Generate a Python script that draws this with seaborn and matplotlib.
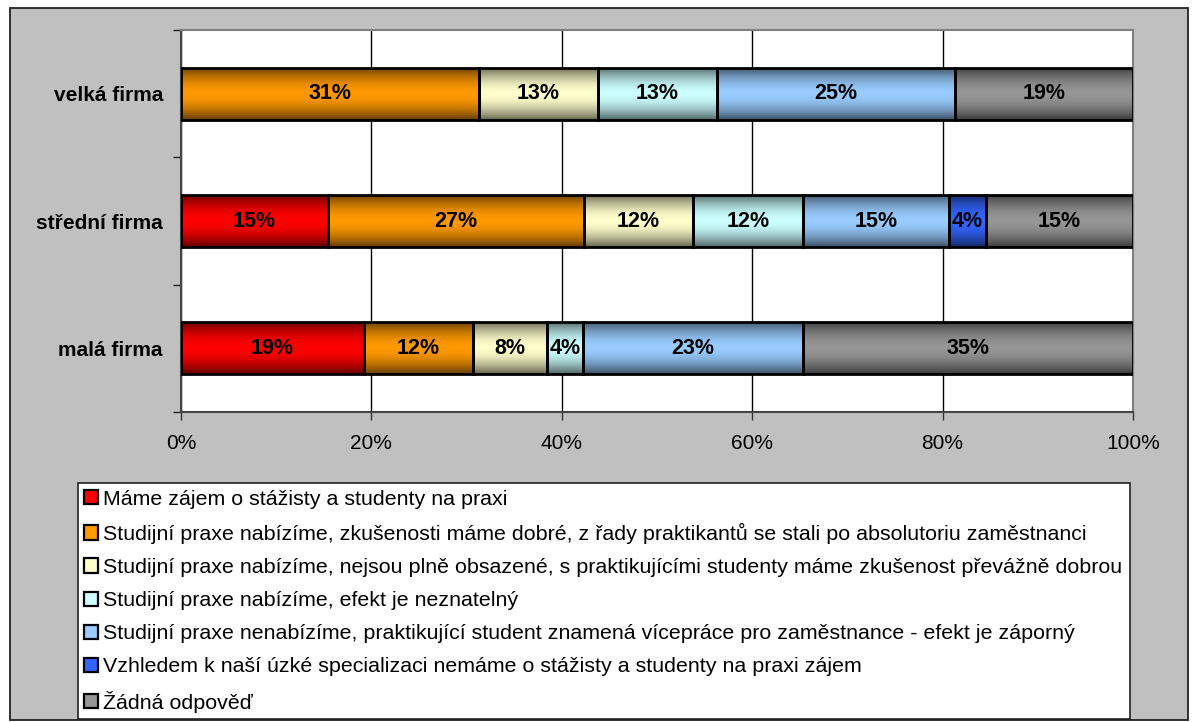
import numpy as np
import pandas as pd
import matplotlib
matplotlib.use("Agg")
import matplotlib.pyplot as plt
import seaborn as sns
from matplotlib.patches import Rectangle, Patch
from matplotlib.ticker import FixedLocator, PercentFormatter
from matplotlib.colors import to_rgb

# categories (top to bottom)
firms = ["velká firma", "střední firma", "malá firma"]

# answer options (legend order / stacking order)
answers = [
    "Máme zájem o stážisty a studenty na praxi",
    "Studijní praxe nabízíme, zkušenosti máme dobré, z řady praktikantů se stali po absolutoriu zaměstnanci",
    "Studijní praxe nabízíme, nejsou plně obsazené, s praktikujícími studenty máme zkušenost převážně dobrou",
    "Studijní praxe nabízíme, efekt je neznatelný",
    "Studijní praxe nenabízíme, praktikující student znamená vícepráce pro zaměstnance - efekt je záporný",
    "Vzhledem k naší úzké specializaci nemáme o stážisty a studenty na praxi zájem",
    "Žádná odpověď",
]
colors = ["#FF0000", "#FF9900", "#FFFFCC", "#CCFFFF", "#99CCFF", "#3366FF", "#969696"]

# shares in % per firm size (velká, střední, malá)
s_zajem = [0.0, 15.4, 19.2]
s_dobre = [31.25, 26.9, 11.5]
s_neobsazene = [12.5, 11.5, 7.7]
s_neznatelny = [12.5, 11.5, 3.85]
s_zaporny = [25.0, 15.4, 23.1]
s_specializace = [0.0, 3.85, 0.0]
s_zadna = [18.75, 15.4, 34.6]

series = [s_zajem, s_dobre, s_neobsazene, s_neznatelny, s_zaporny, s_specializace, s_zadna]

sns.set_style("white")
plt.rcParams["font.family"] = ["Liberation Sans", "DejaVu Sans"]
plt.rcParams["text.color"] = "black"

W, H = 1193, 722
fig = plt.figure(figsize=(W / 100, H / 100), dpi=100)
fig.patch.set_facecolor("white")
# grey chart area with dark border
fig.patches.append(Rectangle((10 / W, 2 / H), 1178 / W, 712 / H, transform=fig.transFigure,
                             facecolor="#C0C0C0", edgecolor="#222222", lw=1.3, zorder=-5))

ax = fig.add_axes([181 / W, 1 - 412 / H, 952 / W, 382 / H])
ax.set_facecolor("white")
ax.set_axisbelow(True)

left = np.zeros(len(firms))
for name, vals, col in zip(answers, series, colors):
    df = pd.DataFrame({"firma": firms, "podil": vals})
    sns.barplot(data=df, x="podil", y="firma", order=firms, color=col, left=left.copy(),
                width=0.41, edgecolor="black", linewidth=2, saturation=1, ax=ax,
                errorbar=None)
    for i, v in enumerate(vals):
        if v > 0:
            ax.text(left[i] + v / 2, i, f"{int(v + 0.5)}%", ha="center", va="center",
                    fontsize=15.5, fontweight="bold", color="black", zorder=5)
    left += np.array(vals)

# cylinder-like shading on each bar segment
t = np.linspace(0, 1, 64)
shade = 1 - 0.6 * np.abs(2 * t - 1) ** 1.8
bars = [p for p in ax.patches if isinstance(p, Rectangle)]
for p in bars:
    x0, y0, w, h = p.get_x(), p.get_y(), p.get_width(), p.get_height()
    if w <= 0:
        p.set_visible(False)
        continue
    base = np.array(to_rgb(p.get_facecolor()))
    img = (shade[:, None] * base[None, :])[:, None, :]
    im = ax.imshow(img, extent=[x0, x0 + w, y0 + h, y0], aspect="auto",
                   interpolation="bilinear", zorder=2)
    im.set_clip_path(p)
    p.set_facecolor("none")
    p.set_zorder(3)

ax.set_xlim(0, 100)
ax.set_ylim(2.5, -0.5)
ax.set_xticks(np.arange(0, 101, 20))
ax.xaxis.set_major_formatter(PercentFormatter(100, decimals=0))
ax.grid(axis="x", color="black", linewidth=1)
ax.grid(axis="y", visible=False)
ax.set_xlabel("")
ax.set_ylabel("")
ax.yaxis.set_minor_locator(FixedLocator([-0.5, 0.5, 1.5, 2.5]))
ax.tick_params(axis="y", which="major", left=True, length=0, pad=13, labelsize=15, labelcolor="black")
ax.tick_params(axis="y", which="minor", left=True, length=6, width=1, color="#222222", direction="out")
ax.tick_params(axis="x", bottom=True, length=6, width=1, color="#333333", direction="out", pad=10,
               labelsize=15, labelcolor="black")
for lab in ax.get_yticklabels():
    lab.set_fontweight("bold")
for side in ["top", "right"]:
    ax.spines[side].set_color("#808080")
    ax.spines[side].set_linewidth(1.5)
for side in ["left", "bottom"]:
    ax.spines[side].set_color("#444444")
    ax.spines[side].set_linewidth(1.5)

handles = [Patch(facecolor=c, edgecolor="black", linewidth=1.6) for c in colors]
leg = fig.legend(handles, answers, loc="lower left", bbox_to_anchor=(78 / W, 3 / H, 1052 / W, 235 / H),
                 mode="expand", ncol=1, frameon=True, fancybox=False, fontsize=15.4,
                 handlelength=0.65, handleheight=0.65, handletextpad=0.2, labelspacing=0.66,
                 borderaxespad=0, borderpad=0.3, framealpha=1, labelcolor="black")
leg.get_frame().set_edgecolor("#222222")
leg.get_frame().set_facecolor("white")
leg.get_frame().set_linewidth(1.2)

fig.savefig("out.png", dpi=100, facecolor=fig.get_facecolor())
